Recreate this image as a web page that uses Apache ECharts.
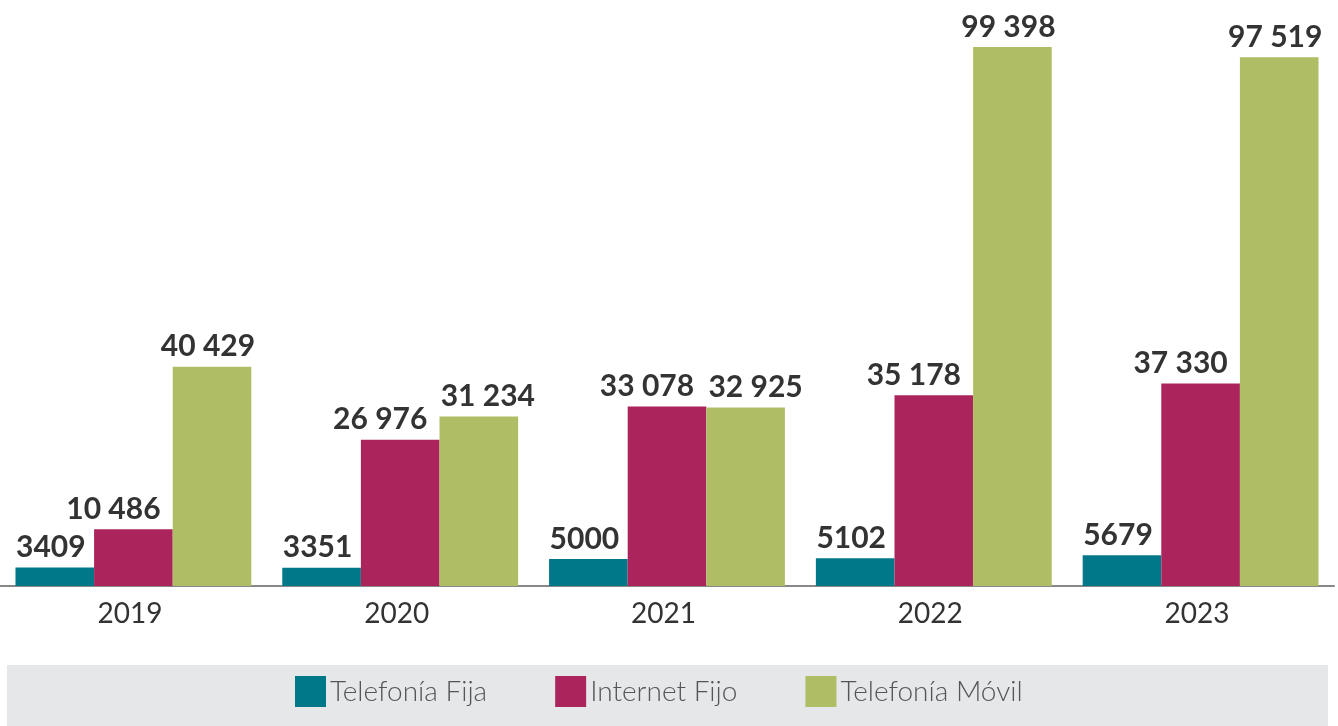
<!DOCTYPE html>
<html>
<head>
<meta charset="utf-8">
<script src="https://cdn.jsdelivr.net/npm/echarts@6/dist/echarts.min.js"></script>
<style>
  html, body { margin: 0; padding: 0; background: #fff; }
  #chart { width: 1338px; height: 726px; }
</style>
</head>
<body>
<div id="chart"></div>
<script>
// datos
const years = ['2019', '2020', '2021', '2022', '2023'];
const telefoniaFija = [3409, 3351, 5000, 5102, 5679];
const internetFijo = [10486, 26976, 33078, 35178, 37330];
const telefoniaMovil = [40429, 31234, 32925, 99398, 97519];
const seriesNames = ['Telefonía Fija', 'Internet Fijo', 'Telefonía Móvil'];

const colors = ['#00788a', '#ab245c', '#afbd64'];

// 10486 -> "10 486", 3409 -> "3409"
function fmt(v) {
  if (v < 10000) return String(v);
  return String(v).replace(/\B(?=(\d{3})+(?!\d))/g, ' ');
}

const labelBase = {
  show: true,
  position: 'top',
  distance: 5,
  color: '#333',
  fontFamily: 'Lato',
  fontWeight: 'bold',
  fontSize: 30,
  formatter: p => fmt(p.value)
};

function makeSeries(name, values, color, dx, shifted) {
  return {
    name: name,
    type: 'bar',
    barGap: '0%',
    barCategoryGap: '11.6%',
    itemStyle: { color: color },
    label: Object.assign({}, labelBase, { offset: [dx, 0] }),
    data: values.map((v, i) => {
      if (shifted && shifted[i] !== undefined) {
        return { value: v, label: { offset: [shifted[i], 0] } };
      }
      return v;
    })
  };
}

const chart = echarts.init(document.getElementById('chart'));
chart.setOption({
  animation: false,
  color: colors,
  graphic: [{
    type: 'rect',
    z: -1,
    shape: { x: 7, y: 665, width: 1321, height: 61 },
    style: { fill: '#e6e7e9' }
  }],
  legend: {
    data: seriesNames,
    bottom: 14,
    left: 290,
    icon: 'rect',
    itemWidth: 31,
    itemHeight: 31,
    itemGap: 68,
    textStyle: {
      fontFamily: 'Lato',
      fontWeight: 300,
      fontSize: 28,
      color: '#555',
      padding: [0, 0, 0, -1]
    }
  },
  grid: {
    left: 0,
    right: 4,
    top: 43.7,
    bottom: 140,
    containLabel: false
  },
  xAxis: {
    type: 'category',
    data: years,
    axisLine: { lineStyle: { color: '#888', width: 2 } },
    axisTick: { show: false },
    axisLabel: {
      margin: 14,
      color: '#333',
      fontFamily: 'Lato',
      fontSize: 28,
      padding: [0, 7, 0, 0]
    }
  },
  yAxis: {
    type: 'value',
    min: 0,
    max: 100000,
    show: false,
    splitLine: { show: false }
  },
  series: [
    makeSeries(seriesNames[0], telefoniaFija, colors[0], -4),
    makeSeries(seriesNames[1], internetFijo, colors[1], -20),
    makeSeries(seriesNames[2], telefoniaMovil, colors[2], -4, { 1: 9, 2: 10 })
  ]
});
</script>
</body>
</html>
